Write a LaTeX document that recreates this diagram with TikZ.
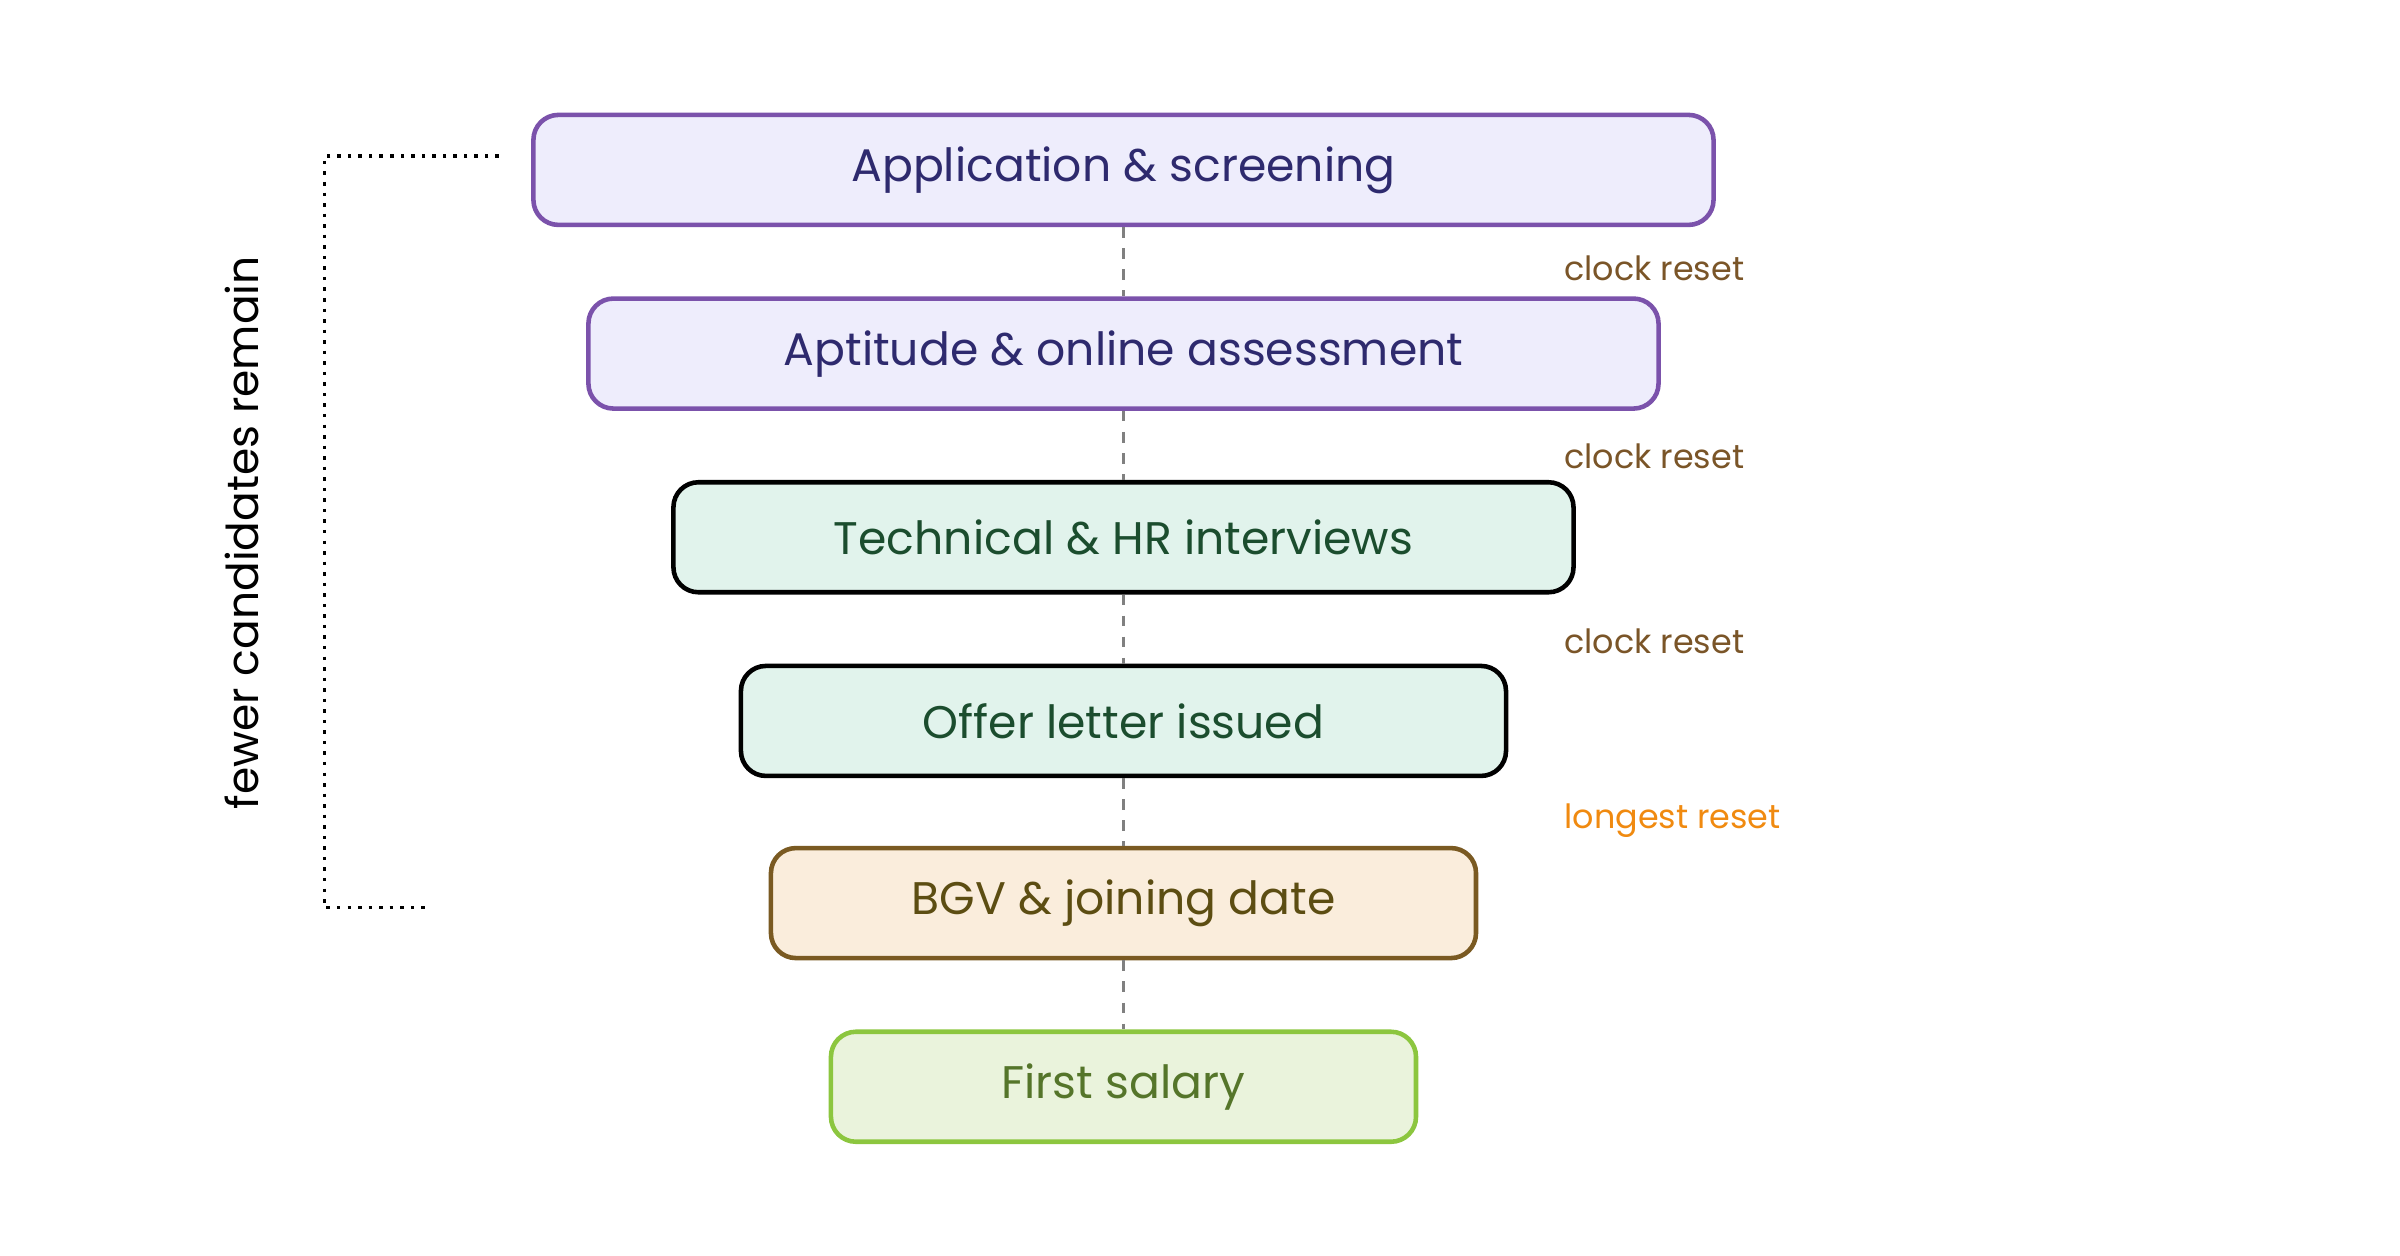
\documentclass[tikz,border=0pt]{standalone}
\usepackage{fontspec}
\setmainfont{Poppins}
\usetikzlibrary{positioning}
\definecolor{purpleline}{HTML}{7B52AB}
\definecolor{purplefill}{HTML}{EEEDFC}
\definecolor{purpletext}{HTML}{2E2A6E}
\definecolor{mintfill}{HTML}{E1F3EC}
\definecolor{minttext}{HTML}{1B4D2E}
\definecolor{brownline}{HTML}{7A5A22}
\definecolor{brownfill}{HTML}{FAEDDC}
\definecolor{browntext}{HTML}{5C4D12}
\definecolor{greenline}{HTML}{8CC63F}
\definecolor{greenfill}{HTML}{EAF3DC}
\definecolor{greentext}{HTML}{55752A}
\definecolor{resettext}{HTML}{7A5528}
\definecolor{longtext}{HTML}{F08A10}
\tikzset{
  stage/.style={draw, line width=1.3pt, rounded corners=0.25cm, minimum height=1.1cm, font=\fontsize{13}{15}\selectfont},
  reset/.style={anchor=west, font=\fontsize{9.5}{11}\selectfont, text=resettext},
  link/.style={draw=gray, dashed, line width=0.9pt}
}
\begin{document}
\begin{tikzpicture}[x=0.01531cm, y=-0.01531cm]
\useasboundingbox (0,0) rectangle (1568,820);
\node[stage, draw=purpleline, fill=purplefill, text=purpletext, minimum width=11.8cm] (apply) at (734,111) {Application \& screening};
\node[stage, draw=purpleline, fill=purplefill, text=purpletext, minimum width=10.7cm] (aptitude) at (734,231) {Aptitude \& online assessment};
\node[stage, draw=black, fill=mintfill, text=minttext, minimum width=9.0cm] (interview) at (734,351) {Technical \& HR interviews};
\node[stage, draw=black, fill=mintfill, text=minttext, minimum width=7.65cm] (offer) at (734,471) {Offer letter issued};
\node[stage, draw=brownline, fill=brownfill, text=browntext, minimum width=7.05cm] (bgv) at (734,590) {BGV \& joining date};
\node[stage, draw=greenline, fill=greenfill, text=greentext, minimum width=5.85cm] (salary) at (734,710) {First salary};
\draw[link] (apply) -- (aptitude);
\draw[link] (aptitude) -- (interview);
\draw[link] (interview) -- (offer);
\draw[link] (offer) -- (bgv);
\draw[link] (bgv) -- (salary);
\node[reset] (reset1) at (1014,175) {clock reset};
\node[reset] (reset2) at (1014,298) {clock reset};
\node[reset] (reset3) at (1014,419) {clock reset};
\node[reset, text=longtext] (reset4) at (1014,536) {longest reset};
% bracket
\coordinate (btop) at (326,102);
\coordinate (bbot) at (281,593);
\draw[dotted, line width=1pt] (btop) -- (212,102) -- (212,593) -- (bbot);
\node[rotate=90, font=\fontsize{12.5}{14}\selectfont] (fewer) at (158,348) {fewer candidates remain};
\end{tikzpicture}
\end{document}
